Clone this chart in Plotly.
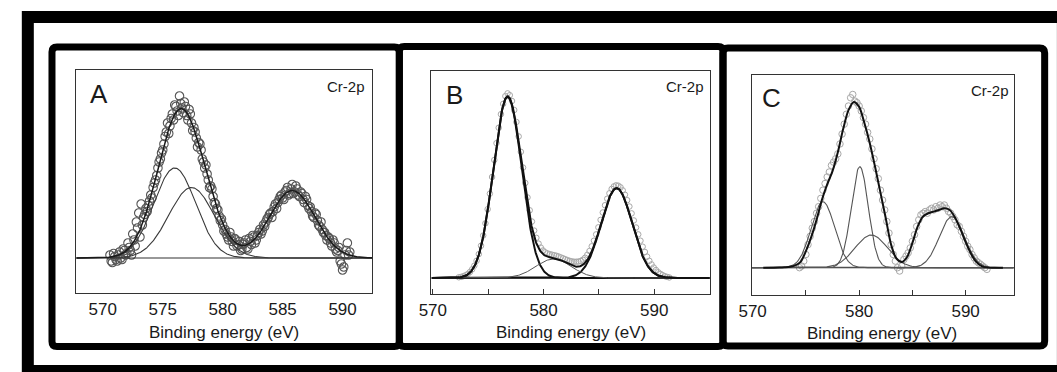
import numpy as np
import plotly.graph_objects as go

W, H = 1057, 372
FONT = "Liberation Sans, Arial, Helvetica, sans-serif"

# ---------------- Panel A : Cr-2p ----------------
# two interleaved scans of the same region
a_energy = [570.6, 570.8, 571.0, 571.2, 571.4, 571.6, 571.8, 572.0, 572.2, 572.4,
            572.6, 572.8, 573.0, 573.2, 573.4, 573.6, 573.8, 574.0, 574.2, 574.4,
            574.6, 574.8, 575.0, 575.2, 575.4, 575.6, 575.8, 576.0, 576.2, 576.4,
            576.6, 576.8, 577.0, 577.2, 577.4, 577.6, 577.8, 578.0, 578.2, 578.4,
            578.6, 578.8, 579.0, 579.2, 579.4, 579.6, 579.8, 580.0, 580.2, 580.4,
            580.6, 580.8, 581.0, 581.2, 581.4, 581.6, 581.8, 582.0, 582.2, 582.4,
            582.6, 582.8, 583.0, 583.2, 583.4, 583.6, 583.8, 584.0, 584.2, 584.4,
            584.6, 584.8, 585.0, 585.2, 585.4, 585.6, 585.8, 586.0, 586.2, 586.4,
            586.6, 586.8, 587.0, 587.2, 587.4, 587.6, 587.8, 588.0, 588.2, 588.4,
            588.6, 588.8, 589.0, 589.2, 589.4, 589.6, 589.8, 590.0, 590.2, 590.4,
            590.6]
a_intensity = [0.02, -0.03, 0.01, -0.02, 0.04, -0.01, 0.05, 0.03, 0.07, 0.02,
               0.12, 0.24, 0.30, 0.36, 0.27, 0.33, 0.35, 0.42, 0.47, 0.52,
               0.60, 0.66, 0.72, 0.81, 0.90, 0.88, 0.96, 1.02, 0.98, 1.08,
               1.00, 1.04, 0.95, 0.99, 0.90, 0.87, 0.80, 0.77, 0.72, 0.64,
               0.62, 0.52, 0.48, 0.41, 0.36, 0.32, 0.25, 0.22, 0.19, 0.14,
               0.17, 0.11, 0.13, 0.08, 0.11, 0.06, 0.10, 0.07, 0.13, 0.09,
               0.14, 0.12, 0.17, 0.16, 0.22, 0.24, 0.27, 0.30, 0.31, 0.36,
               0.37, 0.41, 0.40, 0.44, 0.47, 0.43, 0.49, 0.44, 0.46, 0.41,
               0.43, 0.37, 0.39, 0.33, 0.31, 0.27, 0.29, 0.22, 0.24, 0.17,
               0.15, 0.14, 0.10, 0.12, 0.06, 0.05, -0.02, -0.08, 0.02, 0.10,
               0.04]
a_energy_2 = [570.7, 570.9, 571.1, 571.3, 571.5, 571.7, 571.9, 572.1, 572.3, 572.5,
              572.7, 572.9, 573.1, 573.3, 573.5, 573.7, 573.9, 574.1, 574.3, 574.5,
              574.7, 574.9, 575.1, 575.3, 575.5, 575.7, 575.9, 576.1, 576.3, 576.5,
              576.7, 576.9, 577.1, 577.3, 577.5, 577.7, 577.9, 578.1, 578.3, 578.5,
              578.7, 578.9, 579.1, 579.3, 579.5, 579.7, 579.9, 580.1, 580.3, 580.5,
              580.7, 580.9, 581.1, 581.3, 581.5, 581.7, 581.9, 582.1, 582.3, 582.5,
              582.7, 582.9, 583.1, 583.3, 583.5, 583.7, 583.9, 584.1, 584.3, 584.5,
              584.7, 584.9, 585.1, 585.3, 585.5, 585.7, 585.9, 586.1, 586.3, 586.5,
              586.7, 586.9, 587.1, 587.3, 587.5, 587.7, 587.9, 588.1, 588.3, 588.5,
              588.7, 588.9, 589.1, 589.3, 589.5, 589.7, 589.9, 590.1, 590.3, 590.5]
a_intensity_2 = [-0.02, 0.03, -0.01, 0.02, 0.00, 0.06, 0.02, 0.10, 0.05, 0.16,
                 0.08, 0.20, 0.14, 0.22, 0.29, 0.31, 0.38, 0.40, 0.50, 0.55,
                 0.64, 0.70, 0.76, 0.84, 0.83, 0.93, 0.92, 1.01, 0.95, 1.03,
                 0.97, 1.01, 0.92, 0.96, 0.85, 0.84, 0.74, 0.76, 0.66, 0.60,
                 0.56, 0.47, 0.46, 0.37, 0.33, 0.28, 0.26, 0.18, 0.16, 0.12,
                 0.14, 0.08, 0.12, 0.09, 0.05, 0.09, 0.12, 0.06, 0.11, 0.15,
                 0.10, 0.15, 0.19, 0.18, 0.21, 0.26, 0.29, 0.27, 0.34, 0.33,
                 0.39, 0.42, 0.39, 0.45, 0.42, 0.46, 0.43, 0.48, 0.42, 0.44,
                 0.39, 0.41, 0.35, 0.34, 0.28, 0.30, 0.25, 0.21, 0.19, 0.17,
                 0.12, 0.13, 0.08, 0.10, 0.04, 0.07, -0.04, -0.06, 0.05, 0.02]
# fitted Gaussian components (centre eV, height, sigma eV); the 2p1/2 peak is only in the envelope
a_center = [576.0, 577.4, 585.8]
a_height = [0.60, 0.47, 0.45]
a_sigma = [1.75, 1.90, 1.90]
a_drawn = [True, True, False]

# ---------------- Panel B : Cr-2p ----------------
b_energy = [572.35, 572.55, 572.75, 572.95, 573.15, 573.35, 573.55, 573.75, 573.95, 574.15,
            574.35, 574.55, 574.75, 574.95, 575.15, 575.35, 575.55, 575.75, 575.95, 576.15,
            576.35, 576.55, 576.75, 576.95, 577.15, 577.35, 577.55, 577.75, 577.95, 578.15,
            578.35, 578.55, 578.75, 578.95, 579.15, 579.35, 579.55, 579.75, 579.95, 580.15,
            580.35, 580.55, 580.75, 580.95, 581.15, 581.35, 581.55, 581.75, 581.95, 582.15,
            582.35, 582.55, 582.75, 582.95, 583.15, 583.35, 583.55, 583.75, 583.95, 584.15,
            584.35, 584.55, 584.75, 584.95, 585.15, 585.35, 585.55, 585.75, 585.95, 586.15,
            586.35, 586.55, 586.75, 586.95, 587.15, 587.35, 587.55, 587.75, 587.95, 588.15,
            588.35, 588.55, 588.75, 588.95, 589.15, 589.35, 589.55, 589.75, 589.95, 590.15,
            590.35, 590.55, 590.75, 590.95, 591.15, 591.35]
b_intensity = [0.004, 0.006, 0.010, 0.015, 0.022, 0.033, 0.048, 0.068, 0.095, 0.132,
               0.178, 0.235, 0.302, 0.380, 0.466, 0.558, 0.652, 0.745, 0.830, 0.905,
               0.962, 1.005, 1.020, 1.010, 0.978, 0.928, 0.862, 0.782, 0.697, 0.610,
               0.525, 0.445, 0.374, 0.312, 0.262, 0.222, 0.190, 0.168, 0.152, 0.142,
               0.136, 0.132, 0.129, 0.126, 0.123, 0.119, 0.114, 0.109, 0.104, 0.099,
               0.095, 0.092, 0.090, 0.090, 0.091, 0.094, 0.101, 0.112, 0.128, 0.149,
               0.175, 0.206, 0.241, 0.280, 0.321, 0.362, 0.402, 0.438, 0.468, 0.492,
               0.506, 0.512, 0.510, 0.501, 0.484, 0.460, 0.430, 0.395, 0.357, 0.318,
               0.279, 0.241, 0.206, 0.173, 0.144, 0.118, 0.095, 0.075, 0.058, 0.044,
               0.032, 0.023, 0.016, 0.010, 0.006, 0.003]
b_center = [576.75, 586.6, 580.9]
b_height = [1.00, 0.496, 0.105]
b_sigma = [1.28, 1.40, 1.60]
b_bold = [True, True, False]

# ---------------- Panel C : Cr-2p ----------------
c_energy = [574.4, 574.6, 574.8, 575.0, 575.2, 575.4, 575.6, 575.8, 576.0, 576.2,
            576.4, 576.6, 576.8, 577.0, 577.2, 577.4, 577.6, 577.8, 578.0, 578.2,
            578.4, 578.6, 578.8, 579.0, 579.2, 579.4, 579.6, 579.8, 580.0, 580.2,
            580.4, 580.6, 580.8, 581.0, 581.2, 581.4, 581.6, 581.8, 582.0, 582.2,
            582.4, 582.6, 582.8, 583.0, 583.2, 583.4, 583.6, 583.8, 584.0, 584.2,
            584.4, 584.6, 584.8, 585.0, 585.2, 585.4, 585.6, 585.8, 586.0, 586.2,
            586.4, 586.6, 586.8, 587.0, 587.2, 587.4, 587.6, 587.8, 588.0, 588.2,
            588.4, 588.6, 588.8, 589.0, 589.2, 589.4, 589.6, 589.8, 590.0, 590.2,
            590.4, 590.6, 590.8, 591.0, 591.2, 591.4, 591.6, 591.8, 592.0]
c_intensity = [0.00, 0.01, 0.04, 0.08, 0.14, 0.19, 0.24, 0.28, 0.33, 0.37,
               0.42, 0.47, 0.51, 0.55, 0.58, 0.62, 0.64, 0.66, 0.69, 0.75,
               0.81, 0.87, 0.93, 0.98, 1.03, 1.05, 1.01, 1.00, 0.98, 0.95,
               0.91, 0.87, 0.82, 0.78, 0.72, 0.66, 0.60, 0.54, 0.47, 0.41,
               0.35, 0.28, 0.21, 0.14, 0.08, 0.04, 0.00, -0.02, 0.01, 0.05,
               0.07, 0.09, 0.12, 0.16, 0.20, 0.25, 0.29, 0.32, 0.33, 0.34,
               0.33, 0.35, 0.36, 0.35, 0.37, 0.36, 0.38, 0.37, 0.38, 0.36,
               0.34, 0.33, 0.31, 0.29, 0.26, 0.25, 0.22, 0.19, 0.16, 0.13,
               0.11, 0.08, 0.06, 0.04, 0.03, 0.02, 0.01, 0.00, -0.01]
c_fit_energy = [571.0, 572.0, 572.5, 573.0, 573.5, 574.0, 574.5, 575.0, 575.5, 576.0,
                576.5, 577.0, 577.5, 578.0, 578.5, 579.0, 579.5, 580.0, 580.5, 581.0,
                581.5, 582.0, 582.5, 583.0, 583.5, 584.0, 584.5, 585.0, 585.5, 586.0,
                586.5, 587.0, 587.5, 588.0, 588.5, 589.0, 589.5, 590.0, 590.5, 591.0,
                591.5, 592.0, 592.5, 593.5]
c_fit = [0.000, 0.000, 0.001, 0.003, 0.006, 0.014, 0.035, 0.100, 0.185, 0.290,
         0.410, 0.505, 0.585, 0.700, 0.840, 0.955, 1.005, 0.975, 0.875, 0.755,
         0.610, 0.455, 0.300, 0.140, 0.055, 0.035, 0.065, 0.150, 0.250, 0.310,
         0.330, 0.340, 0.350, 0.360, 0.350, 0.305, 0.235, 0.155, 0.085, 0.035,
         0.010, 0.002, 0.000, 0.000]
c_center = [576.6, 580.06, 581.14, 588.7]
c_height = [0.40, 0.612, 0.198, 0.309]
c_sigma = [1.10, 0.80, 1.52, 1.18]


def gauss(x, c, h, s):
    return h * np.exp(-((x - c) ** 2) / (2.0 * s * s))


fig = go.Figure()

# ---- A ----
xa = np.arange(567.8, 592.5, 0.05)
fig.add_trace(go.Scatter(x=a_energy + a_energy_2, y=a_intensity + a_intensity_2,
                         mode="markers", xaxis="x", yaxis="y",
                         marker=dict(symbol="circle-open", size=8.5, color="#555555",
                                     line=dict(width=1.1))))
fig.add_trace(go.Scatter(x=[xa[0], xa[-1]], y=[0, 0], mode="lines", xaxis="x", yaxis="y",
                         line=dict(color="#333333", width=1.2)))
a_env = np.zeros_like(xa)
for c, h, s, drawn in zip(a_center, a_height, a_sigma, a_drawn):
    comp = gauss(xa, c, h, s)
    a_env += comp
    if drawn:
        fig.add_trace(go.Scatter(x=xa, y=comp, mode="lines", xaxis="x", yaxis="y",
                                 line=dict(color="#3a3a3a", width=1.1)))
fig.add_trace(go.Scatter(x=xa, y=a_env, mode="lines", xaxis="x", yaxis="y",
                         line=dict(color="#1a1a1a", width=1.5)))

# ---- B ----
xb = np.arange(569.9, 595.0, 0.05)
fig.add_trace(go.Scatter(x=b_energy, y=b_intensity, mode="markers", xaxis="x2", yaxis="y2",
                         marker=dict(symbol="circle-open", size=5.5, color="#a8a8a8",
                                     line=dict(width=1))))
fig.add_trace(go.Scatter(x=[xb[0], xb[-1]], y=[0, 0], mode="lines", xaxis="x2", yaxis="y2",
                         line=dict(color="#222222", width=1.3)))
b_env = np.zeros_like(xb)
for c, h, s, bold in zip(b_center, b_height, b_sigma, b_bold):
    comp = gauss(xb, c, h, s)
    b_env += comp
    fig.add_trace(go.Scatter(x=xb, y=comp, mode="lines", xaxis="x2", yaxis="y2",
                             line=dict(color="#111111" if bold else "#555555",
                                       width=2.0 if bold else 1.0)))
fig.add_trace(go.Scatter(x=xb, y=b_env, mode="lines", xaxis="x2", yaxis="y2",
                         line=dict(color="#111111", width=2.0)))

# ---- C ----
xc = np.arange(569.9, 594.6, 0.05)
fig.add_trace(go.Scatter(x=c_energy, y=c_intensity, mode="markers", xaxis="x3", yaxis="y3",
                         marker=dict(symbol="circle-open", size=6.5, color="#a8a8a8",
                                     line=dict(width=1))))
fig.add_trace(go.Scatter(x=[xc[0], xc[-1]], y=[0, 0], mode="lines", xaxis="x3", yaxis="y3",
                         line=dict(color="#333333", width=1.2)))
for c, h, s in zip(c_center, c_height, c_sigma):
    fig.add_trace(go.Scatter(x=xc, y=gauss(xc, c, h, s), mode="lines", xaxis="x3", yaxis="y3",
                             line=dict(color="#555555", width=1.1)))
fig.add_trace(go.Scatter(x=c_fit_energy, y=c_fit, mode="lines", xaxis="x3", yaxis="y3",
                         line=dict(color="#111111", width=2.0, shape="spline", smoothing=0.8)))


def dom_x(p0, p1):
    return [p0 / W, p1 / W]


def dom_y(top, bottom):
    return [1 - bottom / H, 1 - top / H]


tickfont = dict(family=FONT, size=17, color="#1a1a1a")
common_x = dict(showline=True, mirror=True, linecolor="#333333", linewidth=1,
                showgrid=False, zeroline=False, tickfont=tickfont, ticklabelstandoff=1)
common_y = dict(showline=True, mirror=True, linecolor="#333333", linewidth=1,
                showgrid=False, zeroline=False, showticklabels=False, ticks="")

layout = dict(
    width=W, height=H, margin=dict(l=0, r=0, t=0, b=0),
    paper_bgcolor="white", plot_bgcolor="white", showlegend=False,
    xaxis=dict(domain=dom_x(63, 363), range=[567.78, 592.47], anchor="y",
               tickvals=[570, 575, 580, 585, 590], ticks="", **common_x),
    yaxis=dict(domain=dom_y(70, 293), range=[-0.2333, 1.2533], anchor="x", **common_y),
    xaxis2=dict(domain=dom_x(423, 705), range=[569.87, 595.0], anchor="y2",
                tick0=570, dtick=10, ticks="inside", ticklen=5, tickcolor="#333333",
                minor=dict(dtick=5, ticks="inside", ticklen=5, tickcolor="#333333"),
                **common_x),
    yaxis2=dict(domain=dom_y(71, 294), range=[-0.0884, 1.1436], anchor="x2", **common_y),
    xaxis3=dict(domain=dom_x(748, 1013), range=[569.95, 594.5], anchor="y3",
                tick0=570, dtick=10, ticks="inside", ticklen=5, tickcolor="#333333",
                minor=dict(dtick=5, ticks="inside", ticklen=5, tickcolor="#333333"),
                **common_x),
    yaxis3=dict(domain=dom_y(75, 295), range=[-0.1655, 1.168], anchor="x3", **common_y),
)
fig.update_layout(**layout)

# axis titles, panel letters and element labels
ann = []
for cx, cy in [(213, 332), (564, 332), (880, 333)]:
    ann.append(dict(x=cx / W, y=1 - cy / H, xref="paper", yref="paper", text="Binding energy (eV)",
                    showarrow=False, xanchor="center", yanchor="middle",
                    font=dict(family=FONT, size=17, color="#1a1a1a")))
for letter, lx, ly in [("A", 75, 94), ("B", 436, 95), ("C", 756, 98)]:
    ann.append(dict(x=lx / W, y=1 - ly / H, xref="paper", yref="paper", text=letter,
                    showarrow=False, xanchor="left", yanchor="middle",
                    font=dict(family=FONT, size=26, color="#1a1a1a")))
for rx, ry in [(358, 86), (701, 86), (1010, 90)]:
    ann.append(dict(x=rx / W, y=1 - ry / H, xref="paper", yref="paper", text="Cr-2p",
                    showarrow=False, xanchor="right", yanchor="middle",
                    font=dict(family=FONT, size=15, color="#1a1a1a")))
fig.update_layout(annotations=ann)


def rounded_box(x0, y0, x1, y1, r):
    X = lambda v: f"{v / W:.5f}"
    Y = lambda v: f"{1 - v / H:.5f}"
    return (f"M {X(x0 + r)},{Y(y0)} L {X(x1 - r)},{Y(y0)} Q {X(x1)},{Y(y0)} {X(x1)},{Y(y0 + r)} "
            f"L {X(x1)},{Y(y1 - r)} Q {X(x1)},{Y(y1)} {X(x1 - r)},{Y(y1)} "
            f"L {X(x0 + r)},{Y(y1)} Q {X(x0)},{Y(y1)} {X(x0)},{Y(y1 - r)} "
            f"L {X(x0)},{Y(y0 + r)} Q {X(x0)},{Y(y0)} {X(x0 + r)},{Y(y0)} Z")


shapes = [dict(type="rect", xref="paper", yref="paper", x0=14 / W, x1=1063 / W,
               y0=1 - 371 / H, y1=1 - 17 / H, line=dict(color="black", width=12))]
for bx0, by0, bx1, by1 in [(38.5, 47, 390.5, 346.5), (390.5, 46.5, 718.5, 346.5),
                           (718.5, 48, 1044.5, 346)]:
    shapes.append(dict(type="path", xref="paper", yref="paper",
                       path=rounded_box(bx0, by0, bx1, by1, 5),
                       line=dict(color="black", width=7)))
fig.update_layout(shapes=shapes)

fig.write_html("out.html")
